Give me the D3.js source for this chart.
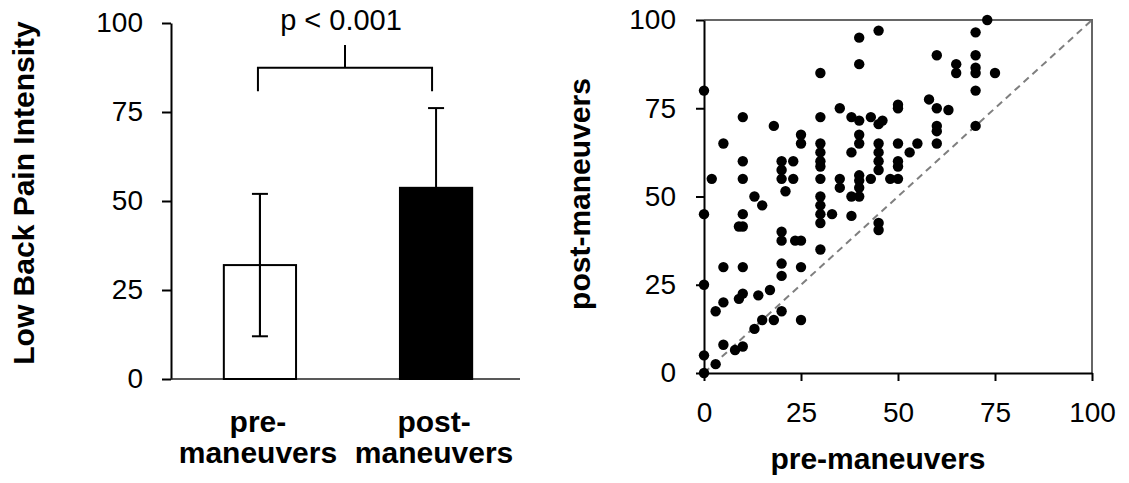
<!DOCTYPE html>
<html>
<head>
<meta charset="utf-8">
<script src="https://cdn.jsdelivr.net/npm/d3@7"></script>
<style>
    body { margin: 0; background: #fff; }
    text { font-family: Arial, "Liberation Sans", sans-serif; fill: #000; }
</style>
</head>
<body>
<svg id="chart" width="1129" height="483"></svg>
<script>
// Bar chart data (mean and SD)
const groups = ['pre-maneuvers', 'post-maneuvers'];
const groupLines = [['pre-', 'maneuvers'], ['post-', 'maneuvers']];
const means = [32, 53.7];
const sds = [20, 22.4];
const pLabel = 'p < 0.001';

// Tick labels
const ticks = [0, 25, 50, 75, 100];

// Scatter data: pre-maneuvers / post-maneuvers per subject
const preValues = [
    0, 0, 0, 0, 0, 2, 3, 3, 5, 5, 5, 5, 8, 9, 9,
    10, 10, 10, 10, 10, 10, 10, 10, 13, 13, 14, 15, 15, 17, 18, 18,
    20, 20, 20, 20, 20, 20, 20, 20, 21, 23, 23, 23.5, 25, 25, 25, 25, 25,
    30, 30, 30, 30, 30, 30, 30, 30, 30, 30, 30, 30, 33, 35, 35, 35,
    38, 38, 38, 38, 40, 40, 40, 40, 40, 40, 40, 40, 40, 43, 43,
    45, 45, 45, 45, 45, 45, 45, 45, 46, 48, 50, 50, 50, 50, 50, 50,
    53, 55, 58, 60, 60, 60, 60, 60, 63, 65, 65, 70, 70, 70, 70, 70, 70, 73, 75
];
const postValues = [
    80, 45, 25, 5, 0, 55, 17.5, 2.5, 65, 30, 20, 8, 6.5, 41.5, 21,
    72.5, 60, 55, 45, 41.5, 30, 22.5, 7.5, 50, 12.5, 22, 47.5, 15, 23.5, 70, 15,
    60, 57.5, 55, 40, 37.5, 31, 27.5, 17.5, 51.5, 60, 55, 37.5, 37.5, 67.5, 65, 30, 15,
    85, 72.5, 65, 62.5, 60, 58.5, 55, 50, 47.5, 45, 42.5, 35, 45, 75, 55, 52.5,
    72.5, 62.5, 50, 44.5, 95, 87.5, 71.5, 67.5, 65, 56, 54.5, 52.5, 50, 72.5, 55,
    97, 70.5, 65, 62.5, 60, 57.5, 42.5, 40.5, 71.5, 55, 76, 75, 65, 60, 58.5, 55,
    62.5, 65, 77.5, 90, 75, 70, 68.5, 65, 74.5, 87.5, 85, 96.5, 90, 86.5, 85, 80, 70, 100, 85
];

window.addEventListener('load', () => {
    const svg = d3.select('#chart');

    // ---------- Left panel: bar chart ----------
    const barTop = 23, barBottom = 379, barLeft = 171, barRight = 520;

    const xBar = d3.scaleBand()
        .domain(groups)
        .range([barLeft, 525])
        .paddingInner(0.59)
        .paddingOuter(0.3);
    const yBar = d3.scaleLinear().domain([0, 100]).range([barBottom, barTop]);

    // y axis
    const yAxisBar = svg.append('g')
        .attr('transform', `translate(${barLeft},0)`)
        .call(d3.axisLeft(yBar).tickValues(ticks).tickSize(9).tickSizeOuter(0).tickPadding(19));
    yAxisBar.selectAll('path, line').attr('stroke', '#000').attr('stroke-width', 2);
    yAxisBar.selectAll('text')
        .attr('font-size', 28)
        .attr('font-family', 'Arial, "Liberation Sans", sans-serif');

    // baseline
    svg.append('line')
        .attr('x1', barLeft).attr('x2', barRight)
        .attr('y1', yBar(0)).attr('y2', yBar(0))
        .attr('stroke', '#222')
        .attr('stroke-width', 1.6);

    // error bars (drawn before bars so the black bar hides the lower half)
    const errs = svg.append('g').attr('stroke', '#000').attr('stroke-width', 2);
    groups.forEach((g, i) => {
        const cx = xBar(g) + xBar.bandwidth() / 2;
        errs.append('line')
            .attr('x1', cx).attr('x2', cx)
            .attr('y1', yBar(means[i] - sds[i])).attr('y2', yBar(means[i] + sds[i]));
        [means[i] - sds[i], means[i] + sds[i]].forEach(v => {
            errs.append('line')
                .attr('x1', cx - 8).attr('x2', cx + 8)
                .attr('y1', yBar(v)).attr('y2', yBar(v));
        });
    });

    // bars
    svg.selectAll('.bar')
        .data(groups)
        .enter().append('rect')
        .attr('class', 'bar')
        .attr('x', d => xBar(d))
        .attr('width', xBar.bandwidth())
        .attr('y', (d, i) => yBar(means[i]))
        .attr('height', (d, i) => yBar(0) - yBar(means[i]))
        .attr('fill', (d, i) => i === 0 ? 'none' : '#000')
        .attr('stroke', '#000')
        .attr('stroke-width', 2);

    // redraw the pre error bar on top of the open bar
    const cx0 = xBar(groups[0]) + xBar.bandwidth() / 2;
    svg.append('line')
        .attr('x1', cx0).attr('x2', cx0)
        .attr('y1', yBar(means[0] - sds[0])).attr('y2', yBar(means[0] + sds[0]))
        .attr('stroke', '#000').attr('stroke-width', 2);

    // significance bracket
    const bx1 = xBar(groups[0]) + xBar.bandwidth() / 2 - 2;
    const bx2 = xBar(groups[1]) + xBar.bandwidth() / 2 - 4;
    const bMid = (bx1 + bx2) / 2;
    svg.append('path')
        .attr('d', `M${bx1},${yBar(80.8)}V${yBar(87.4)}H${bx2}V${yBar(80.8)}M${bMid},${yBar(87.4)}V${yBar(93.8)}`)
        .attr('fill', 'none')
        .attr('stroke', '#000')
        .attr('stroke-width', 2);
    svg.append('text')
        .attr('x', bMid - 4)
        .attr('y', 30)
        .attr('text-anchor', 'middle')
        .attr('font-size', 29)
        .text(pLabel);

    // category labels
    groups.forEach((g, i) => {
        const cx = xBar(g) + xBar.bandwidth() / 2;
        svg.append('text')
            .attr('x', cx)
            .attr('y', 432)
            .attr('text-anchor', 'middle')
            .attr('font-size', 30)
            .attr('font-weight', 'bold')
            .selectAll('tspan')
            .data(groupLines[i])
            .enter().append('tspan')
            .attr('x', cx - 2)
            .attr('dy', (d, j) => j === 0 ? 0 : 31)
            .text(d => d);
    });

    // y label
    svg.append('text')
        .attr('transform', 'rotate(-90)')
        .attr('x', -193)
        .attr('y', 34)
        .attr('text-anchor', 'middle')
        .attr('font-size', 30)
        .attr('font-weight', 'bold')
        .text('Low Back Pain Intensity');

    // ---------- Right panel: scatter ----------
    const sLeft = 704, sRight = 1092, sTop = 20, sBottom = 373;
    const xS = d3.scaleLinear().domain([0, 100]).range([sLeft, sRight]);
    const yS = d3.scaleLinear().domain([0, 100]).range([sBottom, sTop]);

    // top and right frame
    svg.append('path')
        .attr('d', `M${xS(0)},${yS(100)}H${xS(100)}V${yS(0)}`)
        .attr('fill', 'none')
        .attr('stroke', '#666')
        .attr('stroke-width', 2);

    // identity line
    svg.append('line')
        .attr('x1', xS(0)).attr('y1', yS(0))
        .attr('x2', xS(100)).attr('y2', yS(100))
        .attr('stroke', '#7f7f7f')
        .attr('stroke-width', 2)
        .attr('stroke-dasharray', '7,5');

    // axes
    const xAxisS = svg.append('g')
        .attr('transform', `translate(0,${sBottom})`)
        .call(d3.axisBottom(xS).tickValues(ticks).tickSize(8).tickSizeOuter(0).tickPadding(21));
    const yAxisS = svg.append('g')
        .attr('transform', `translate(${sLeft},0)`)
        .call(d3.axisLeft(yS).tickValues(ticks).tickSize(8).tickSizeOuter(0).tickPadding(20));
    [xAxisS, yAxisS].forEach(a => {
        a.selectAll('path, line').attr('stroke', '#000').attr('stroke-width', 2);
        a.selectAll('text')
            .attr('font-size', 28)
            .attr('font-family', 'Arial, "Liberation Sans", sans-serif');
    });

    // points
    svg.append('g')
        .selectAll('circle')
        .data(preValues.map((d, i) => ({ pre: d, post: postValues[i] })))
        .enter().append('circle')
        .attr('cx', d => xS(d.pre))
        .attr('cy', d => yS(d.post))
        .attr('r', 5.2)
        .attr('fill', '#000');

    // axis titles
    svg.append('text')
        .attr('x', (sLeft + sRight) / 2 - 20)
        .attr('y', 469)
        .attr('text-anchor', 'middle')
        .attr('font-size', 30)
        .attr('font-weight', 'bold')
        .text('pre-maneuvers');
    svg.append('text')
        .attr('transform', 'rotate(-90)')
        .attr('x', -194)
        .attr('y', 590)
        .attr('text-anchor', 'middle')
        .attr('font-size', 30)
        .attr('font-weight', 'bold')
        .text('post-maneuvers');
});
</script>
</body>
</html>
